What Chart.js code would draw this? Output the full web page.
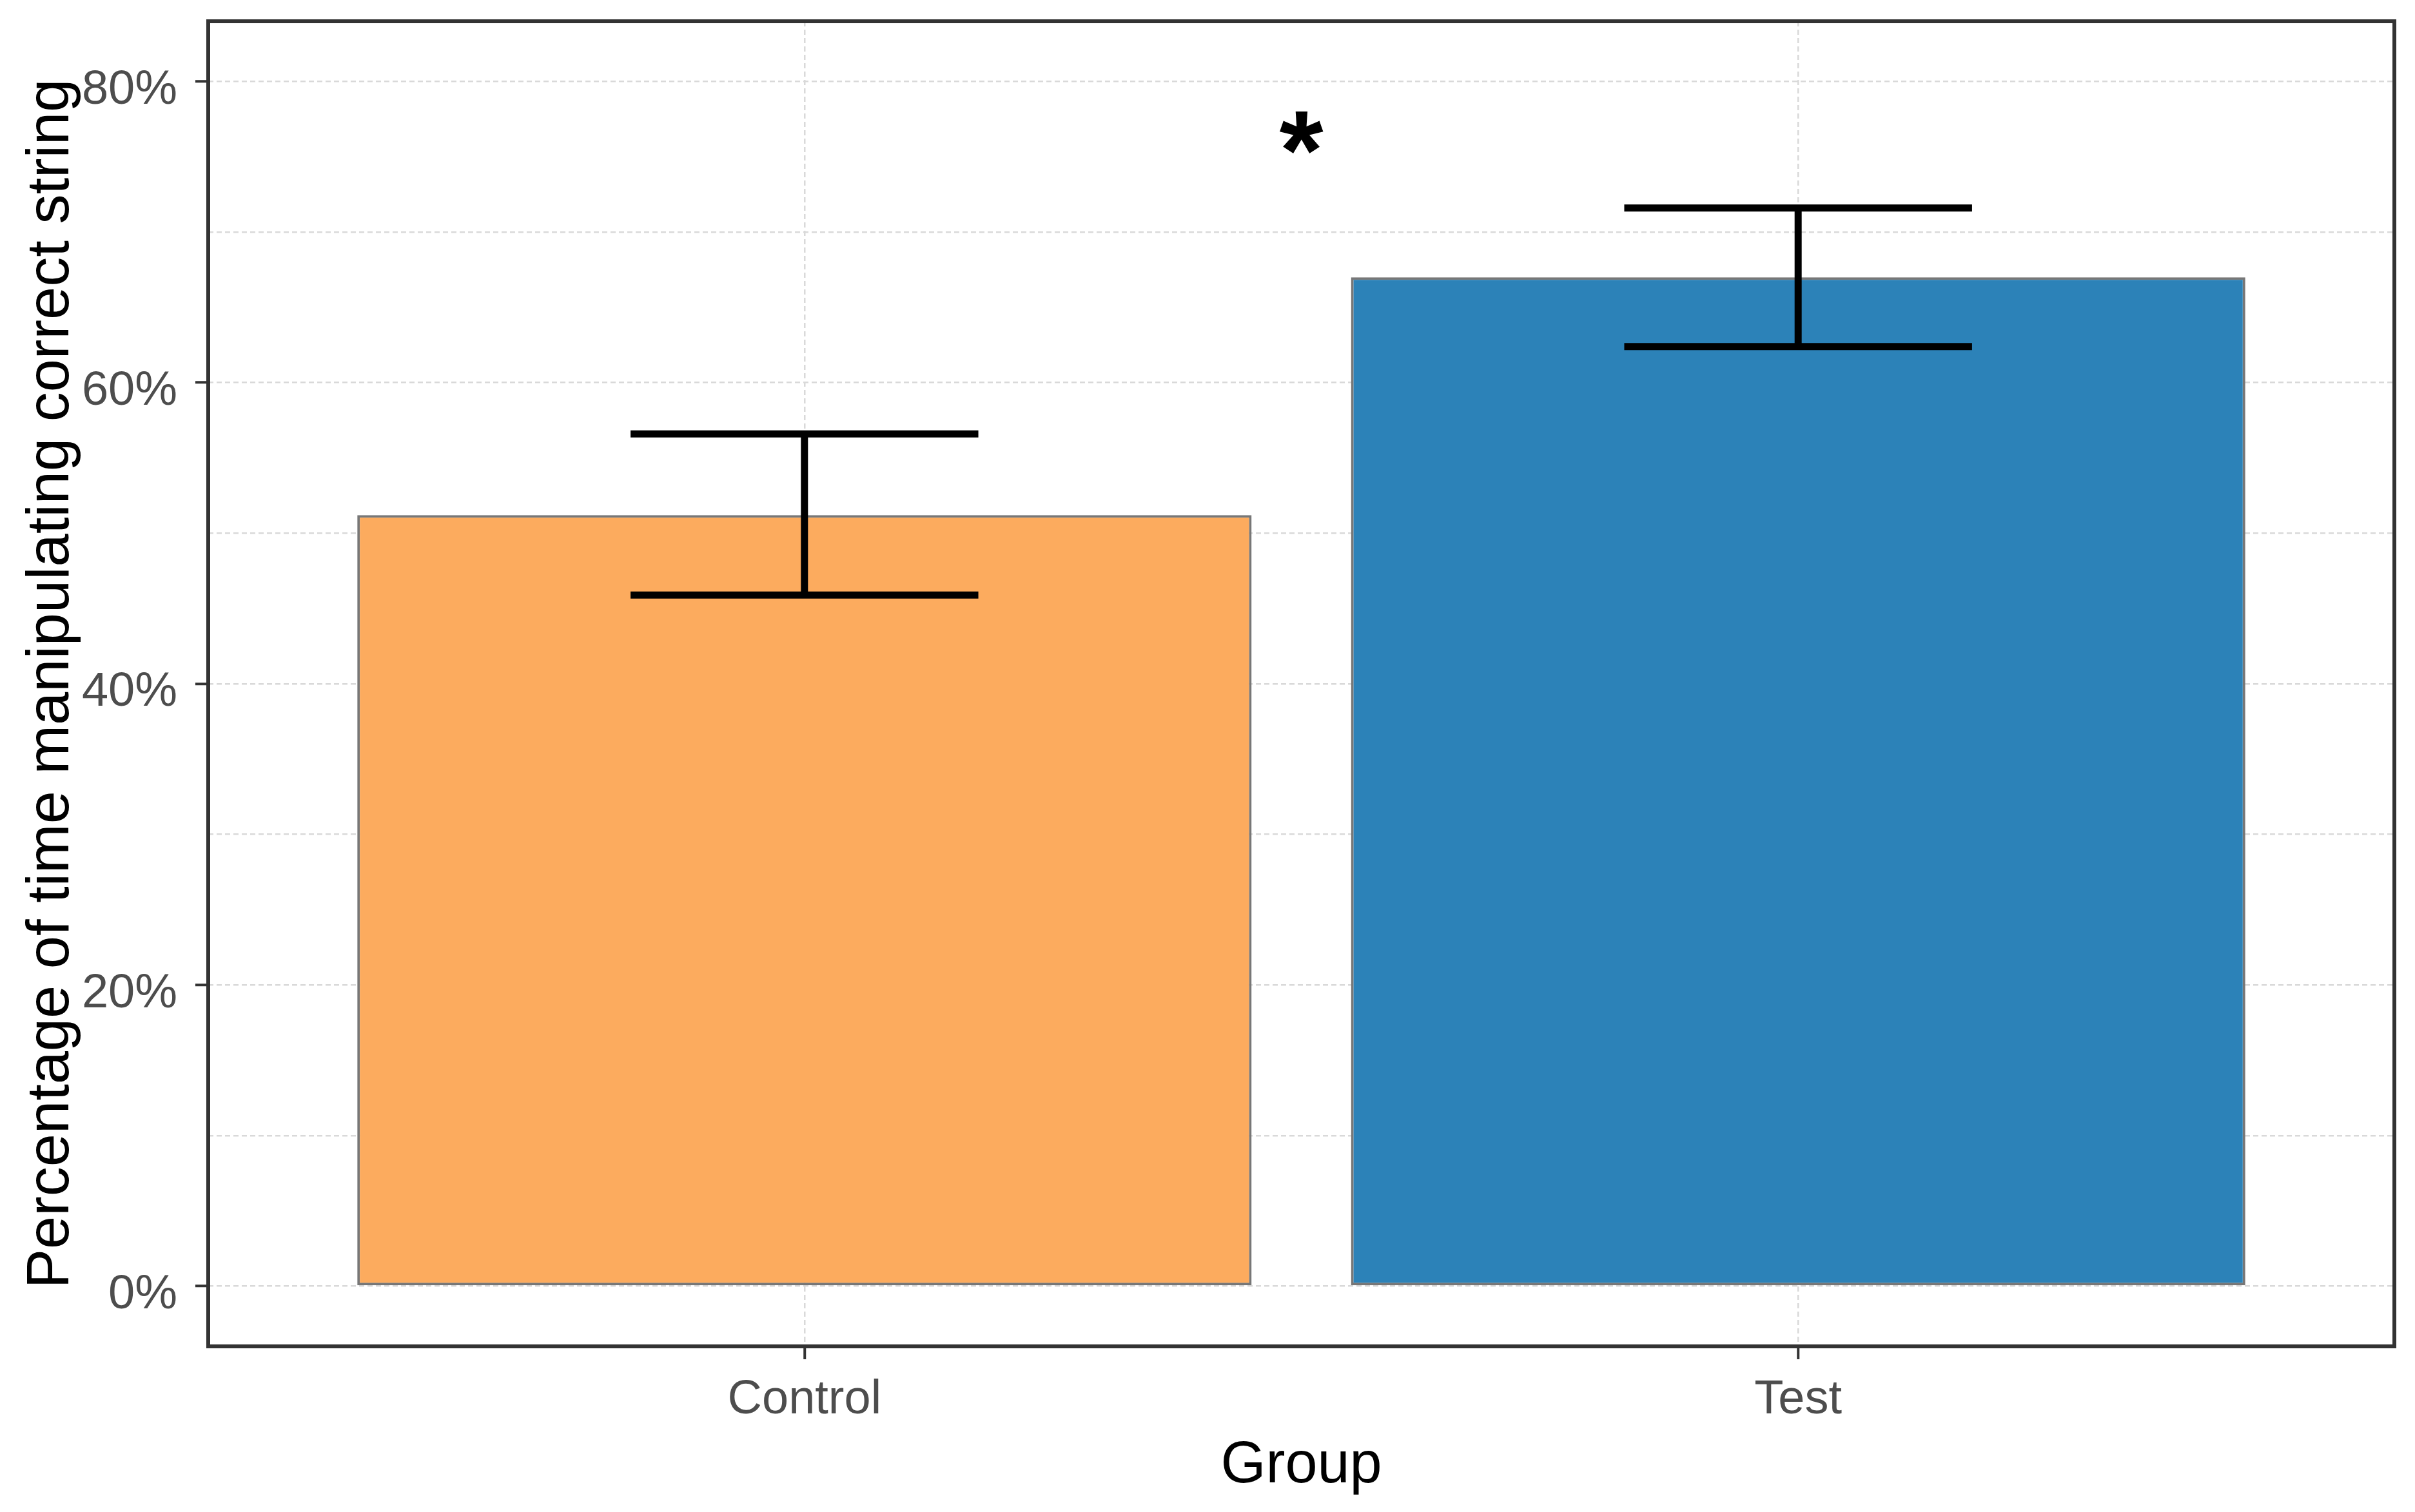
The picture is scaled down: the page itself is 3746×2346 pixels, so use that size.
<!DOCTYPE html>
<html>
<head>
<meta charset="utf-8">
<script src="https://cdn.jsdelivr.net/npm/chart.js@4.4.0/dist/chart.umd.min.js"></script>
<style>
  html, body { margin: 0; padding: 0; background: #fff; }
  #wrap { width: 3746px; height: 2346px; }
</style>
</head>
<body>
<div id="wrap"><canvas id="chart"></canvas></div>
<script>
// values (percent)
const groups = ['Control', 'Test'];
const groupPos = [1, 2];
const meanPct = [51.2, 67.0];
const errLow = [45.9, 62.4];
const errHigh = [56.6, 71.6];
const yMajor = [0, 20, 40, 60, 80];
const yMinor = [10, 30, 50, 70];
const sigLabel = '*';
const sigX = 1.5;
const sigY = 76.6;

const fillColors = ['#FCAB5E', '#2C82B8'];
const capHalf = 0.175;
const font = '"Liberation Sans", Arial, sans-serif';
const gridColor = '#d9d9d9';
const frameColor = '#333333';

// error bars, significance mark and panel frame
const extras = {
  id: 'extras',
  afterDatasetsDraw(chart) {
    const { ctx, scales: { x, y } } = chart;
    ctx.save();
    ctx.strokeStyle = '#000';
    ctx.lineWidth = 11;
    ctx.lineCap = 'butt';
    groupPos.forEach((g, i) => {
      const cx = x.getPixelForValue(g);
      const l = x.getPixelForValue(g - capHalf);
      const r = x.getPixelForValue(g + capHalf);
      const top = y.getPixelForValue(errHigh[i]);
      const bot = y.getPixelForValue(errLow[i]);
      ctx.beginPath();
      ctx.moveTo(cx, top); ctx.lineTo(cx, bot);
      ctx.moveTo(l, top); ctx.lineTo(r, top);
      ctx.moveTo(l, bot); ctx.lineTo(r, bot);
      ctx.stroke();
    });

    ctx.fillStyle = '#000';
    ctx.font = 'bold 175px ' + font;
    ctx.textAlign = 'center';
    ctx.textBaseline = 'alphabetic';
    const m = ctx.measureText(sigLabel);
    const sx = x.getPixelForValue(sigX);
    const sy = y.getPixelForValue(sigY);
    const shift = (m.actualBoundingBoxAscent - m.actualBoundingBoxDescent) / 2;
    ctx.fillText(sigLabel, sx, sy + shift);
    ctx.restore();
  },
  afterDraw(chart) {
    const { ctx, chartArea: a } = chart;
    ctx.save();
    ctx.strokeStyle = frameColor;
    ctx.lineWidth = 6;
    ctx.strokeRect(a.left, a.top, a.right - a.left, a.bottom - a.top);
    ctx.restore();
  }
};

new Chart(document.getElementById('chart'), {
  type: 'bar',
  data: {
    datasets: [{
      data: groupPos.map((g, i) => ({ x: g, y: meanPct[i] })),
      backgroundColor: fillColors,
      borderColor: '#777777',
      borderWidth: 4,
      borderSkipped: false,
      barPercentage: 0.9,
      categoryPercentage: 1
    }]
  },
  options: {
    responsive: true,
    maintainAspectRatio: false,
    animation: false,
    layout: { padding: { top: 33, right: 32, left: 0, bottom: 0 } },
    plugins: { legend: { display: false }, tooltip: { enabled: false } },
    scales: {
      x: {
        type: 'linear',
        min: 0.4,
        max: 2.6,
        offset: false,
        afterBuildTicks: s => { s.ticks = groupPos.map(v => ({ value: v })); },
        afterFit: s => { s.height = 257; s.paddingLeft = 0; s.paddingRight = 0; },
        ticks: {
          callback: v => groups[groupPos.indexOf(v)] || '',
          color: '#4d4d4d',
          font: { family: font, size: 74 },
          padding: 19,
          maxRotation: 0
        },
        grid: {
          offset: false,
          color: gridColor,
          lineWidth: 2.5,
          tickLength: 20,
          tickColor: frameColor,
          tickWidth: 4,
          tickBorderDash: []
        },
        border: { display: false, dash: [8, 5] },
        title: {
          display: true,
          text: 'Group',
          color: '#000',
          font: { family: font, size: 90 },
          padding: { top: 0, bottom: 17 }
        }
      },
      y: {
        min: -4,
        max: 84,
        afterBuildTicks: s => {
          s.ticks = yMajor.concat(yMinor).sort((a, b) => a - b).map(v => ({ value: v }));
        },
        afterFit: s => { s.width = 323; s.paddingTop = 0; s.paddingBottom = 0; },
        ticks: {
          callback: v => yMajor.includes(v) ? v + '%' : '',
          color: '#4d4d4d',
          font: { family: font, size: 74 },
          padding: 28,
          labelOffset: 14
        },
        grid: {
          color: gridColor,
          lineWidth: 2.5,
          tickLength: 20,
          tickColor: c => yMajor.includes(c.tick.value) ? frameColor : 'rgba(0,0,0,0)',
          tickWidth: 4,
          tickBorderDash: []
        },
        border: { display: false, dash: [8, 5] },
        title: {
          display: true,
          text: 'Percentage of time manipulating correct string',
          color: '#000',
          font: { family: font, size: 92 },
          padding: { top: 25, bottom: 0 }
        }
      }
    }
  },
  plugins: [extras]
});
</script>
</body>
</html>
